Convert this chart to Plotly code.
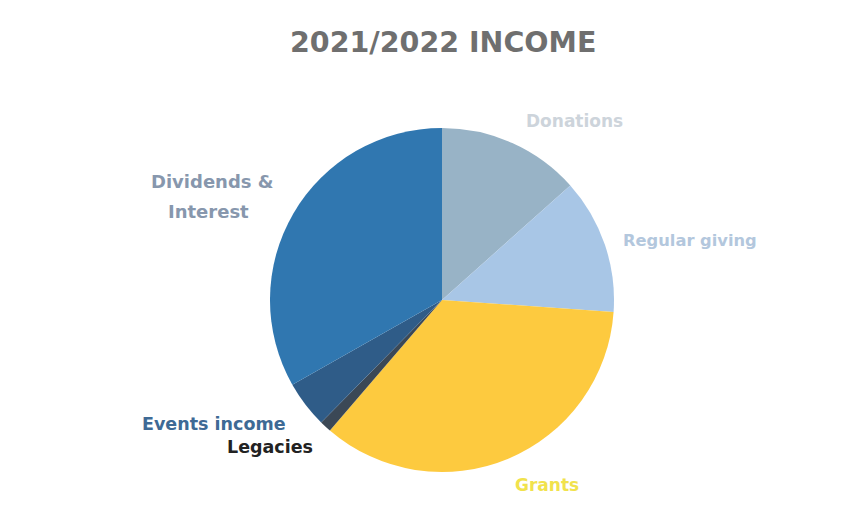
import plotly.graph_objects as go

labels = ["Donations", "Regular giving", "Grants", "Legacies", "Events income", "Dividends &<br>Interest"]
values = [13.4, 12.7, 35.2, 1.1, 4.4, 33.2]
slice_colors = ["#98b3c6", "#a8c6e6", "#fdca3f", "#3b4856", "#2f5c88", "#3077b0"]
label_colors = ["#cdd4db", "#b3c7dd", "#f1e24c", "#222222", "#3e6a95", "#8797ad"]
label_sizes = [17, 16.3, 17, 17.5, 17.5, 18]

W, H = 867, 524
fig = go.Figure()
fig.add_trace(go.Pie(
    labels=labels, values=values, sort=False, direction="clockwise", rotation=0,
    marker=dict(colors=slice_colors, line=dict(width=0)),
    textinfo="none", hoverinfo="label+percent", showlegend=False,
    domain=dict(x=[270/W, 614/W], y=[(H-472)/H, (H-128)/H]),
))

# label positions (pixel coordinates of each line's center)
label_pos = [[(574, 121)], [(690, 240)], [(547, 485)], [(270, 447)], [(214, 424)],
             [(212, 181), (208, 211)]]
for lab, col, sz, plist in zip(labels, label_colors, label_sizes, label_pos):
    for line, (px, py) in zip(lab.split("<br>"), plist):
        fig.add_annotation(x=px/W, y=1-py/H, xref="paper", yref="paper", text=f"<b>{line}</b>",
                           showarrow=False, xanchor="center", yanchor="middle",
                           font=dict(family="DejaVu Sans", size=sz, color=col), align="center")

fig.add_annotation(x=443/W, y=1-43/H, xref="paper", yref="paper",
                   text="<b>2021/2022 INCOME</b>", showarrow=False,
                   xanchor="center", yanchor="middle",
                   font=dict(family="DejaVu Sans", size=28.5, color="#6f6f6f"))

fig.update_layout(width=W, height=H, margin=dict(l=0, r=0, t=0, b=0),
                  paper_bgcolor="white", plot_bgcolor="white")
fig.write_html("out.html", config={"displayModeBar": False},
               post_script="document.body.style.margin='0';")
